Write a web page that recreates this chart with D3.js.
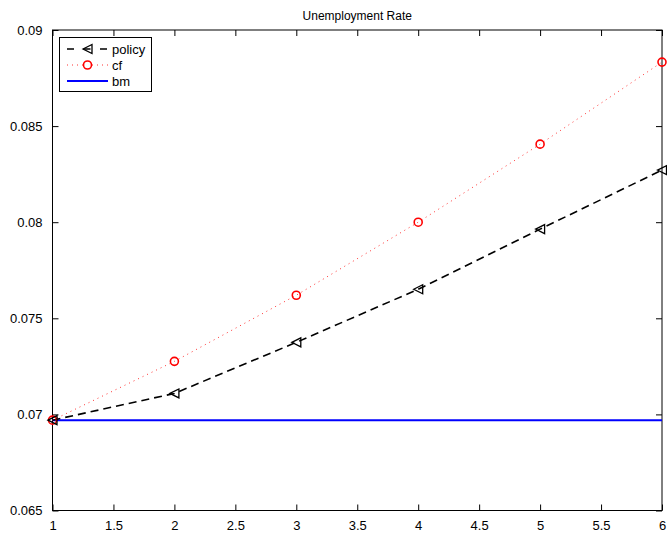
<!DOCTYPE html>
<html>
<head>
<meta charset="utf-8">
<script src="https://cdn.jsdelivr.net/npm/d3@7"></script>
<style>
  html, body { margin: 0; padding: 0; background: #fff; }
  svg { display: block; font-family: "Liberation Sans", Arial, sans-serif; }
</style>
</head>
<body>
<svg id="chart" width="667" height="534"></svg>
<script>
// Unemployment rate paths by period
const periods = [1, 2, 3, 4, 5, 6];
const policy = [0.0697, 0.07109, 0.07375, 0.07651, 0.07964, 0.08271];
const cf     = [0.0697, 0.07276, 0.0762, 0.0800, 0.08406, 0.08833];
const bm     = [0.0697, 0.0697, 0.0697, 0.0697, 0.0697, 0.0697];
const xTicks = [1, 1.5, 2, 2.5, 3, 3.5, 4, 4.5, 5, 5.5, 6];
const yTicks = [0.065, 0.07, 0.075, 0.08, 0.085, 0.09];
const titleText = "Unemployment Rate";
const legendLabels = ["policy", "cf", "bm"];

const svg = d3.select("#chart");
const m = { left: 52.5, right: 662, top: 30, bottom: 510.5 };

const x = d3.scaleLinear().domain([1, 6]).range([m.left, m.right]);
const y = d3.scaleLinear().domain([0.065, 0.09]).range([m.bottom, m.top]);

// axes box with inward ticks on all four sides
const tickLen = 6;
const fmtY = d => d3.format("")(+d.toFixed(3));
svg.append("g").attr("transform", `translate(0,${m.bottom})`)
  .call(d3.axisBottom(x).tickValues(xTicks).tickSizeInner(-tickLen).tickSizeOuter(0).tickPadding(10).tickFormat(d => d3.format("")(d)));
svg.append("g").attr("transform", `translate(0,${m.top})`)
  .call(d3.axisTop(x).tickValues(xTicks).tickSizeInner(-tickLen).tickSizeOuter(0).tickFormat(""));
svg.append("g").attr("transform", `translate(${m.left},0)`)
  .call(d3.axisLeft(y).tickValues(yTicks).tickSizeInner(-tickLen).tickSizeOuter(0).tickPadding(10).tickFormat(fmtY));
svg.append("g").attr("transform", `translate(${m.right},0)`)
  .call(d3.axisRight(y).tickValues(yTicks).tickSizeInner(-tickLen).tickSizeOuter(0).tickFormat(""));

svg.selectAll(".domain").remove();
svg.selectAll(".tick line").attr("stroke", "#000").attr("stroke-width", 1);
svg.selectAll(".tick text").attr("font-size", 13).attr("fill", "#000")
  .attr("font-family", "Liberation Sans, Arial, sans-serif");

svg.append("rect")
  .attr("x", m.left).attr("y", m.top)
  .attr("width", m.right - m.left).attr("height", m.bottom - m.top)
  .attr("fill", "none").attr("stroke", "#000").attr("stroke-width", 1);

// title
svg.append("text")
  .attr("x", (m.left + m.right) / 2).attr("y", 19.5)
  .attr("text-anchor", "middle").attr("font-size", 12).attr("fill", "#000")
  .text(titleText);

const line = d3.line().x((d, i) => x(periods[i])).y(d => y(d));

// benchmark
svg.append("path").datum(bm).attr("d", line)
  .attr("fill", "none").attr("stroke", "#0000ff").attr("stroke-width", 2);

// counterfactual
svg.append("path").datum(cf).attr("d", line)
  .attr("fill", "none").attr("stroke", "#ff3333").attr("stroke-width", 1)
  .attr("stroke-dasharray", "1,4");

// policy
svg.append("path").datum(policy).attr("d", line)
  .attr("fill", "none").attr("stroke", "#000").attr("stroke-width", 1.6)
  .attr("stroke-dasharray", "8,5");

// markers
const tri = s => `M${-s},0L${s},${-s}L${s},${s}Z`;
svg.selectAll(".cfm").data(cf).enter().append("circle")
  .attr("cx", (d, i) => x(periods[i])).attr("cy", d => y(d)).attr("r", 4)
  .attr("fill", "none").attr("stroke", "#ff0000").attr("stroke-width", 1.6);
svg.selectAll(".pm").data(policy).enter().append("path")
  .attr("d", tri(4.5))
  .attr("transform", (d, i) => `translate(${x(periods[i])},${y(d)})`)
  .attr("fill", "none").attr("stroke", "#000").attr("stroke-width", 1.3);

// legend
const lg = svg.append("g");
lg.append("rect").attr("x", 59.5).attr("y", 37.5).attr("width", 92).attr("height", 54)
  .attr("fill", "#fff").attr("stroke", "#000").attr("stroke-width", 1);
const rows = [49, 65, 81];
const x0 = 67, x1 = 108, xm = 87.5;
// policy entry
lg.append("line").attr("x1", x0).attr("x2", x1).attr("y1", rows[0]).attr("y2", rows[0])
  .attr("stroke", "#000").attr("stroke-width", 1.6).attr("stroke-dasharray", "7,9.5");
lg.append("path").attr("d", tri(4.5)).attr("transform", `translate(${xm},${rows[0]})`)
  .attr("fill", "none").attr("stroke", "#000").attr("stroke-width", 1.3);
// cf entry
lg.append("line").attr("x1", x0).attr("x2", x1).attr("y1", rows[1]).attr("y2", rows[1])
  .attr("stroke", "#ff3333").attr("stroke-width", 1).attr("stroke-dasharray", "1,4");
lg.append("circle").attr("cx", xm).attr("cy", rows[1]).attr("r", 4)
  .attr("fill", "#fff").attr("stroke", "#ff0000").attr("stroke-width", 1.6);
// bm entry
lg.append("line").attr("x1", x0).attr("x2", x1).attr("y1", rows[2]).attr("y2", rows[2])
  .attr("stroke", "#0000ff").attr("stroke-width", 2);
lg.selectAll(".lt").data(legendLabels).enter().append("text")
  .attr("x", 112).attr("y", (d, i) => rows[i] + 4.5)
  .attr("font-size", 13).attr("fill", "#000").text(d => d);
</script>
</body>
</html>
